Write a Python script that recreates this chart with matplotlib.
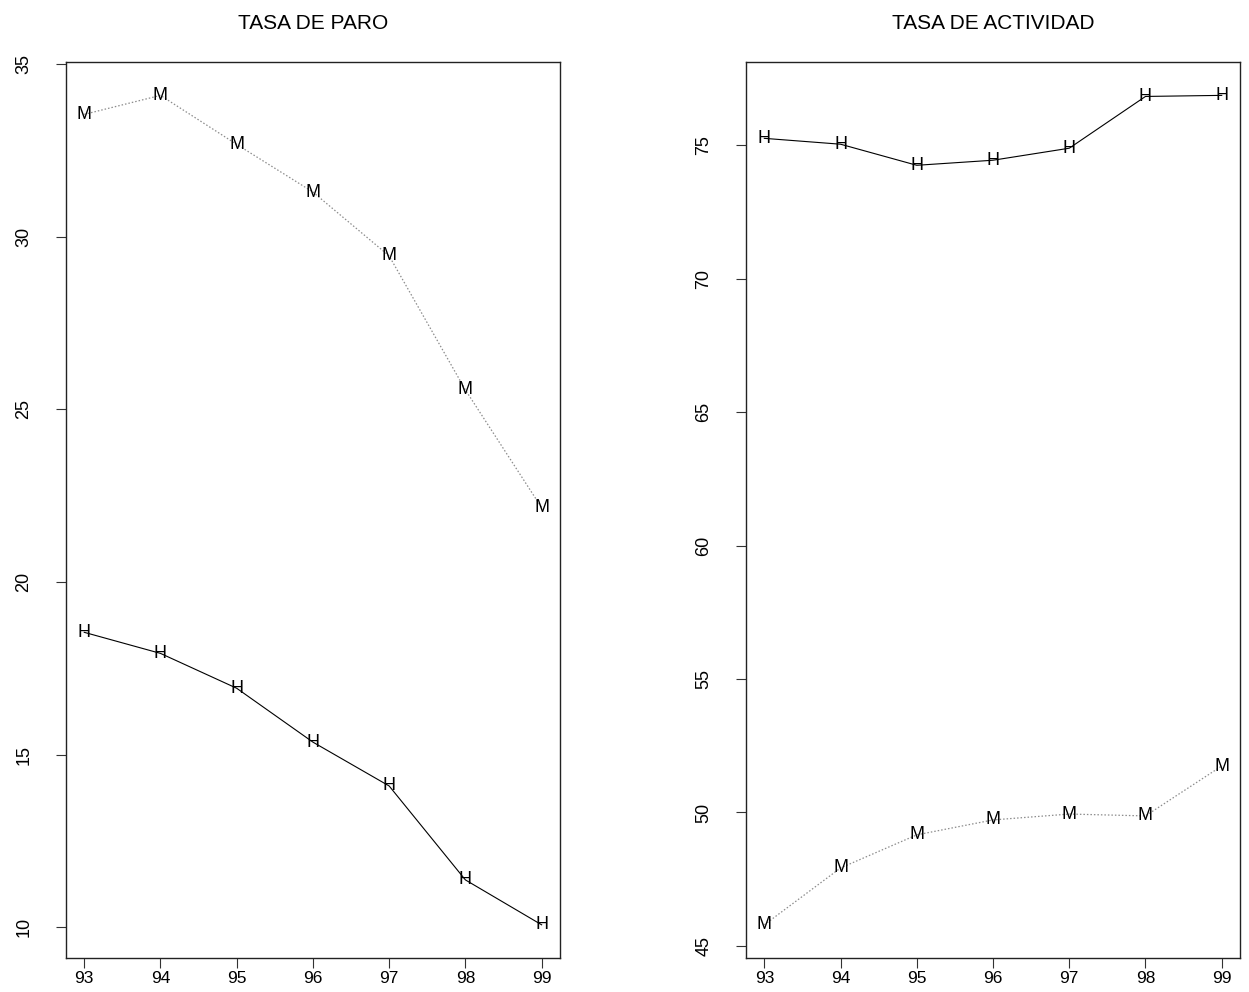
import matplotlib
matplotlib.use("Agg")
import matplotlib.pyplot as plt

plt.rcParams["font.family"] = ["Liberation Sans", "DejaVu Sans"]

years = [93, 94, 95, 96, 97, 98, 99]

# tasa de paro (%)
paro_h = [18.54, 17.93, 16.92, 15.36, 14.09, 11.37, 10.07]
paro_m = [33.54, 34.09, 32.67, 31.29, 29.44, 25.56, 22.15]

# tasa de actividad (%)
act_h = [75.26, 75.04, 74.25, 74.44, 74.89, 76.83, 76.87]
act_m = [45.79, 47.92, 49.16, 49.72, 49.94, 49.87, 51.74]

paro_ticks = [10, 15, 20, 25, 30, 35]
act_ticks = [45, 50, 55, 60, 65, 70, 75]


def r_range(vals, frac=0.04):
    lo, hi = min(vals), max(vals)
    d = (hi - lo) * frac
    return lo - d, hi + d


def panel(ax, title, h, m, yticks):
    ax.plot(years, h, color="black", lw=0.8, zorder=1)
    ax.plot(years, m, color="#8c8c8c", lw=0.9, ls=(0, (1.2, 1.6)), zorder=1)
    for x, y in zip(years, h):
        ax.text(x, y, "H", ha="center", va="center", fontsize=13, zorder=3)
    for x, y in zip(years, m):
        ax.text(x, y, "M", ha="center", va="center", fontsize=13, zorder=3)

    ax.set_xlim(*r_range(years))
    ax.set_ylim(*r_range(h + m))
    ax.set_xticks(years)
    ax.set_xticklabels([str(y) for y in years])
    ax.set_yticks(yticks)
    ax.set_yticklabels([str(t) for t in yticks])
    ax.tick_params(axis="both", direction="out", length=7.2, width=0.8,
                   labelsize=13, color="#333333")
    ax.tick_params(axis="x", pad=2.5, labelsize=12.5)
    ax.tick_params(axis="y", pad=17)
    plt.setp(ax.get_yticklabels(), rotation=90, va="center")
    for s in ax.spines.values():
        s.set_linewidth(1.0)
        s.set_color("#222222")
    ax.set_title(title, fontsize=15, pad=24)


fig = plt.figure(figsize=(12.49, 9.92), dpi=100)
ax1 = fig.add_axes([0.0528, 0.0343, 0.3955, 0.903])
ax2 = fig.add_axes([0.5973, 0.0343, 0.3955, 0.903])

panel(ax1, "TASA DE PARO", paro_h, paro_m, paro_ticks)
panel(ax2, "TASA DE ACTIVIDAD", act_h, act_m, act_ticks)

fig.savefig("out.png", dpi=100)
